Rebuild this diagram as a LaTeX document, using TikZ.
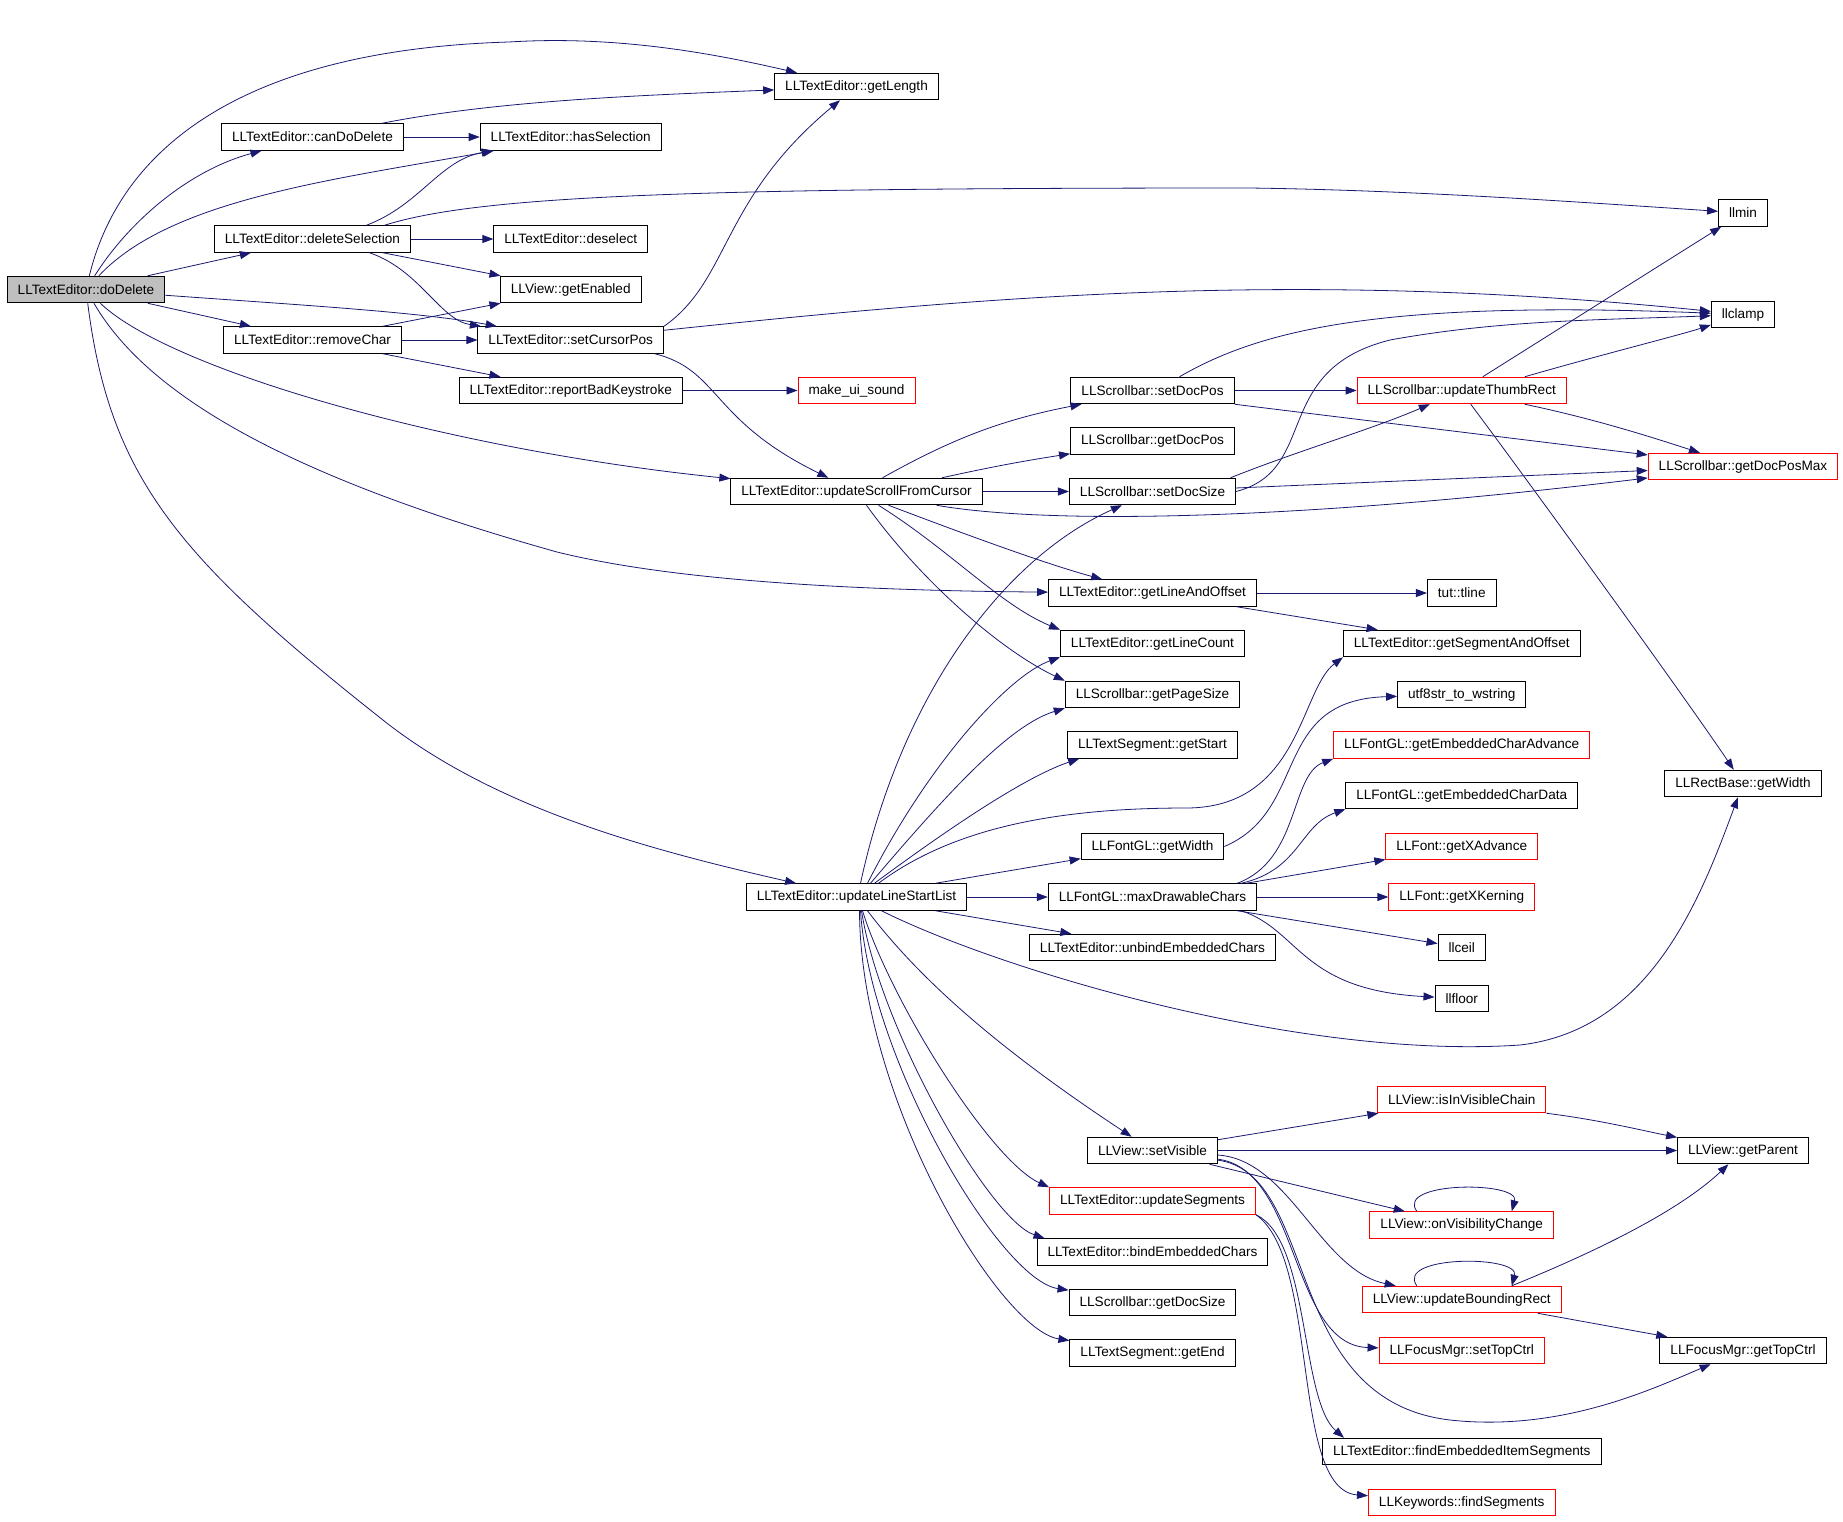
\documentclass[tikz,border=0pt]{standalone}
\usepackage{fontspec}
\setmainfont{Liberation Sans}
\usetikzlibrary{arrows.meta}
\definecolor{edgeblue}{HTML}{191970}
\definecolor{rootgray}{HTML}{BFBFBF}
\tikzset{
  fn/.style={draw=black, line width=1pt, fill=white, minimum height=26.5pt, inner xsep=10.5pt, inner ysep=0pt, font=\fontsize{13.6}{15}\selectfont},
  fnred/.style={fn, draw=red},
  fnroot/.style={fn, fill=rootgray},
  call/.style={draw=edgeblue, line width=0.8pt, -{Triangle[length=11pt,width=8pt]}}
}
\begin{document}
\begin{tikzpicture}[x=1pt, y=-1pt]
\useasboundingbox (0,0) rectangle (1843,1521);

\node[fnroot] (doDelete) at (86,289.5) {LLTextEditor::doDelete};

\node[fn] (canDoDelete) at (312.5,137) {LLTextEditor::canDoDelete};
\node[fn] (delSel) at (312.5,239) {LLTextEditor::deleteSelection};
\node[fn] (removeChar) at (312.5,340) {LLTextEditor::removeChar};

\node[fn] (hasSel) at (570.75,137) {LLTextEditor::hasSelection};
\node[fn] (deselect) at (570.75,239) {LLTextEditor::deselect};
\node[fn] (getEnabled) at (570.75,289.5) {LLView::getEnabled};
\node[fn] (setCursorPos) at (570.75,340) {LLTextEditor::setCursorPos};
\node[fn] (reportBad) at (570.75,390.5) {LLTextEditor::reportBadKeystroke};

\node[fn] (getLength) at (856.5,86.5) {LLTextEditor::getLength};
\node[fnred] (uiSound) at (856.5,390.5) {make\_ui\_sound};
\node[fn] (updScroll) at (856.5,491.5) {LLTextEditor::updateScrollFromCursor};
\node[fn] (updLineStart) at (856.5,897) {LLTextEditor::updateLineStartList};

\node[fn] (setDocPos) at (1152.5,390.5) {LLScrollbar::setDocPos};
\node[fn] (getDocPos) at (1152.5,441) {LLScrollbar::getDocPos};
\node[fn] (setDocSize) at (1152.5,491.5) {LLScrollbar::setDocSize};
\node[fn] (lineOffset) at (1152.5,593) {LLTextEditor::getLineAndOffset};
\node[fn] (lineCount) at (1152.5,643.5) {LLTextEditor::getLineCount};
\node[fn] (pageSize) at (1152.5,694.5) {LLScrollbar::getPageSize};
\node[fn] (getStart) at (1152.5,745) {LLTextSegment::getStart};
\node[fn] (fontWidth) at (1152.5,846.5) {LLFontGL::getWidth};
\node[fn] (maxChars) at (1152.5,897) {LLFontGL::maxDrawableChars};
\node[fn] (unbindChars) at (1152.5,947.5) {LLTextEditor::unbindEmbeddedChars};
\node[fn] (setVisible) at (1152.5,1150.5) {LLView::setVisible};
\node[fnred] (updSegments) at (1152.5,1201) {LLTextEditor::updateSegments};
\node[fn] (bindChars) at (1152.5,1252) {LLTextEditor::bindEmbeddedChars};
\node[fn] (getDocSize) at (1152.5,1302.5) {LLScrollbar::getDocSize};
\node[fn] (getEnd) at (1152.5,1353) {LLTextSegment::getEnd};

\node[fnred] (updThumb) at (1461.75,390.5) {LLScrollbar::updateThumbRect};
\node[fn] (tline) at (1461.75,593) {tut::tline};
\node[fn] (segOffset) at (1461.75,643.5) {LLTextEditor::getSegmentAndOffset};
\node[fn] (utfStr) at (1461.75,694.5) {utf8str\_to\_wstring};
\node[fnred] (charAdvance) at (1461.75,745) {LLFontGL::getEmbeddedCharAdvance};
\node[fn] (charData) at (1461.75,795.5) {LLFontGL::getEmbeddedCharData};
\node[fnred] (xAdvance) at (1461.75,846.5) {LLFont::getXAdvance};
\node[fnred] (xKerning) at (1461.75,897) {LLFont::getXKerning};
\node[fn] (llceil) at (1461.75,947.5) {llceil};
\node[fn] (llfloor) at (1461.75,998.5) {llfloor};
\node[fnred] (inVisChain) at (1461.75,1099.5) {LLView::isInVisibleChain};
\node[fnred] (onVisChange) at (1461.75,1225) {LLView::onVisibilityChange};
\node[fnred] (updBounding) at (1461.75,1299.5) {LLView::updateBoundingRect};
\node[fnred] (setTopCtrl) at (1461.75,1350.5) {LLFocusMgr::setTopCtrl};
\node[fn] (findEmbedded) at (1461.75,1451.5) {LLTextEditor::findEmbeddedItemSegments};
\node[fnred] (findSegments) at (1461.75,1502.5) {LLKeywords::findSegments};

\node[fn] (llmin) at (1743,213) {llmin};
\node[fn] (llclamp) at (1743,314.5) {llclamp};
\node[fnred] (docPosMax) at (1743,466.5) {LLScrollbar::getDocPosMax};
\node[fn] (rectWidth) at (1743,783.5) {LLRectBase::getWidth};
\node[fn] (getParent) at (1743,1150.5) {LLView::getParent};
\node[fn] (getTopCtrl) at (1743,1350.5) {LLFocusMgr::getTopCtrl};

\draw[call] (doDelete) .. controls (120,150) and (240,50) .. (509,42) .. controls (620,35) and (720,55) .. (getLength);
\draw[call] (doDelete) .. controls (130,220) and (190,170) .. (canDoDelete);
\draw[call] (doDelete) .. controls (170,200) and (330,180) .. (hasSel);
\draw[call] (doDelete) -- (delSel);
\draw[call] (doDelete) .. controls (300,305) and (420,312) .. (setCursorPos);
\draw[call] (doDelete) -- (removeChar);
\draw[call] (doDelete) .. controls (170,370) and (450,450) .. (updScroll);
\draw[call] (doDelete) .. controls (150,400) and (300,480) .. (557,552) .. controls (650,575) and (800,590) .. (lineOffset);
\draw[call] (doDelete) .. controls (110,480) and (180,560) .. (388,724) .. controls (500,810) and (650,850) .. (updLineStart);

\draw[call] (canDoDelete) -- (hasSel);
\draw[call] (canDoDelete) .. controls (500,100) and (650,95) .. (getLength);

\draw[call] ([xshift=54pt]delSel.north) .. controls (420,205) and (440,160) .. (hasSel);
\draw[call] ([xshift=72pt]delSel.north) .. controls (480,195) and (700,188) .. (1249,188) .. controls (1400,190) and (1550,200) .. (llmin);
\draw[call] (delSel) -- (deselect);
\draw[call] (delSel) -- (getEnabled);
\draw[call] ([xshift=57pt]delSel.south) .. controls (420,270) and (440,320) .. (setCursorPos);

\draw[call] (removeChar) -- (getEnabled);
\draw[call] (removeChar) -- (setCursorPos);
\draw[call] (removeChar) -- (reportBad);
\draw[call] (reportBad) -- (uiSound);

\draw[call] (setCursorPos.north east) .. controls (730,280) and (720,200) .. (getLength);
\draw[call] (setCursorPos) .. controls (1000,295) and (1300,270) .. (llclamp);
\draw[call] ([xshift=84pt]setCursorPos.south) .. controls (720,370) and (710,420) .. (updScroll);

\draw[call] ([xshift=26pt]updScroll.north) .. controls (950,440) and (1000,420) .. (setDocPos);
\draw[call] ([xshift=85.5pt]updScroll.north) .. controls (1000,465) and (1030,460) .. (getDocPos);
\draw[call] (updScroll) -- (setDocSize);
\draw[call] ([xshift=80pt]updScroll.south) .. controls (1050,525) and (1300,520) .. (docPosMax);
\draw[call] ([xshift=32pt]updScroll.south) .. controls (980,540) and (1050,565) .. (lineOffset);
\draw[call] ([xshift=22pt]updScroll.south) .. controls (950,550) and (1000,605) .. (lineCount.north west);
\draw[call] ([xshift=10pt]updScroll.south) .. controls (920,580) and (1000,650) .. (pageSize.north west);

\draw[call] ([xshift=27pt]setDocPos.north) .. controls (1260,330) and (1380,300) .. (llclamp);
\draw[call] (setDocPos) -- (updThumb);
\draw[call] (setDocPos.south east) -- (docPosMax);
\draw[call] (setDocSize.east) .. controls (1320,470) and (1270,370) .. (1390,340) .. controls (1500,320) and (1600,320) .. (llclamp);
\draw[call] ([xshift=78pt]setDocSize.north) .. controls (1300,450) and (1370,430) .. (updThumb);
\draw[call] (setDocSize) -- (docPosMax);

\draw[call] ([xshift=21pt]updThumb.north) -- (llmin);
\draw[call] ([xshift=63pt]updThumb.north) .. controls (1600,355) and (1680,335) .. (llclamp);
\draw[call] ([xshift=63pt]updThumb.south) .. controls (1600,420) and (1660,440) .. (docPosMax);
\draw[call] ([xshift=9pt]updThumb.south) .. controls (1520,470) and (1680,690) .. (rectWidth);

\draw[call] (lineOffset) -- (tline);
\draw[call] (lineOffset) -- (segOffset);

\draw[call] ([xshift=4pt]updLineStart.north) .. controls (900,700) and (1000,560) .. (setDocSize);
\draw[call] ([xshift=11pt]updLineStart.north) .. controls (930,760) and (1010,675) .. (lineCount.south west);
\draw[call] ([xshift=14pt]updLineStart.north) .. controls (950,790) and (1010,725) .. (pageSize.south west);
\draw[call] ([xshift=18pt]updLineStart.north) .. controls (960,820) and (1030,775) .. ([xshift=12pt]getStart.south west);
\draw[call] ([xshift=22pt]updLineStart.north) .. controls (950,830) and (1050,808) .. (1186,808) .. controls (1300,808) and (1300,690) .. (segOffset.south west);
\draw[call] ([xshift=79pt]updLineStart.north) -- (fontWidth);
\draw[call] (updLineStart) -- (maxChars);
\draw[call] ([xshift=79pt]updLineStart.south) -- (unbindChars);
\draw[call] ([xshift=25pt]updLineStart.south) .. controls (1000,970) and (1300,1060) .. (1520,1045) .. controls (1650,1030) and (1700,900) .. (rectWidth);
\draw[call] ([xshift=11pt]updLineStart.south) .. controls (920,980) and (1000,1050) .. (setVisible);
\draw[call] ([xshift=6pt]updLineStart.south) .. controls (890,1000) and (990,1160) .. (updSegments.north west);
\draw[call] ([xshift=5pt]updLineStart.south) .. controls (880,1030) and (990,1220) .. ([xshift=8pt]bindChars.north west);
\draw[call] ([xshift=4pt]updLineStart.south) .. controls (870,1060) and (1000,1280) .. (getDocSize);
\draw[call] ([xshift=3pt]updLineStart.south) .. controls (860,1100) and (1000,1330) .. (getEnd);

\draw[call] (fontWidth.east) .. controls (1310,810) and (1270,700) .. (utfStr);
\draw[call] ([xshift=-20pt]maxChars.north east) .. controls (1300,860) and (1290,775) .. (charAdvance.south west);
\draw[call] ([xshift=-16pt]maxChars.north east) .. controls (1300,870) and (1300,825) .. (charData.south west);
\draw[call] ([xshift=-11pt]maxChars.north east) -- (xAdvance);
\draw[call] (maxChars) -- (xKerning);
\draw[call] ([xshift=-20pt]maxChars.south east) -- (llceil);
\draw[call] ([xshift=-16pt]maxChars.south east) .. controls (1300,930) and (1300,990) .. (llfloor);

\draw[call] (setVisible) -- (inVisChain);
\draw[call] (setVisible) -- (getParent);
\draw[call] (setVisible) -- (onVisChange);
\draw[call] (setVisible) .. controls (1290,1160) and (1320,1270) .. (updBounding);
\draw[call] (setVisible) .. controls (1300,1170) and (1290,1345) .. (setTopCtrl);
\draw[call] (setVisible) .. controls (1320,1175) and (1280,1400) .. (1450,1420) .. controls (1560,1432) and (1650,1390) .. (getTopCtrl);
\draw[call] (updSegments.south east) .. controls (1310,1240) and (1300,1400) .. ([xshift=22pt]findEmbedded.north west);
\draw[call] (updSegments.south east) .. controls (1320,1260) and (1290,1490) .. (findSegments);

\draw[call] (inVisChain.south east) .. controls (1600,1120) and (1640,1130) .. (getParent);
\draw[call] ([xshift=50pt]updBounding.north) .. controls (1600,1250) and (1680,1210) .. (getParent);
\draw[call] ([xshift=76pt]updBounding.south) -- (getTopCtrl);
\draw[call] ([xshift=-45pt]updBounding.north) .. controls (1395,1255) and (1520,1255) .. ([xshift=50pt]updBounding.north);
\draw[call] ([xshift=-45pt]onVisChange.north) .. controls (1395,1181) and (1520,1181) .. ([xshift=50pt]onVisChange.north);
\end{tikzpicture}
\end{document}
